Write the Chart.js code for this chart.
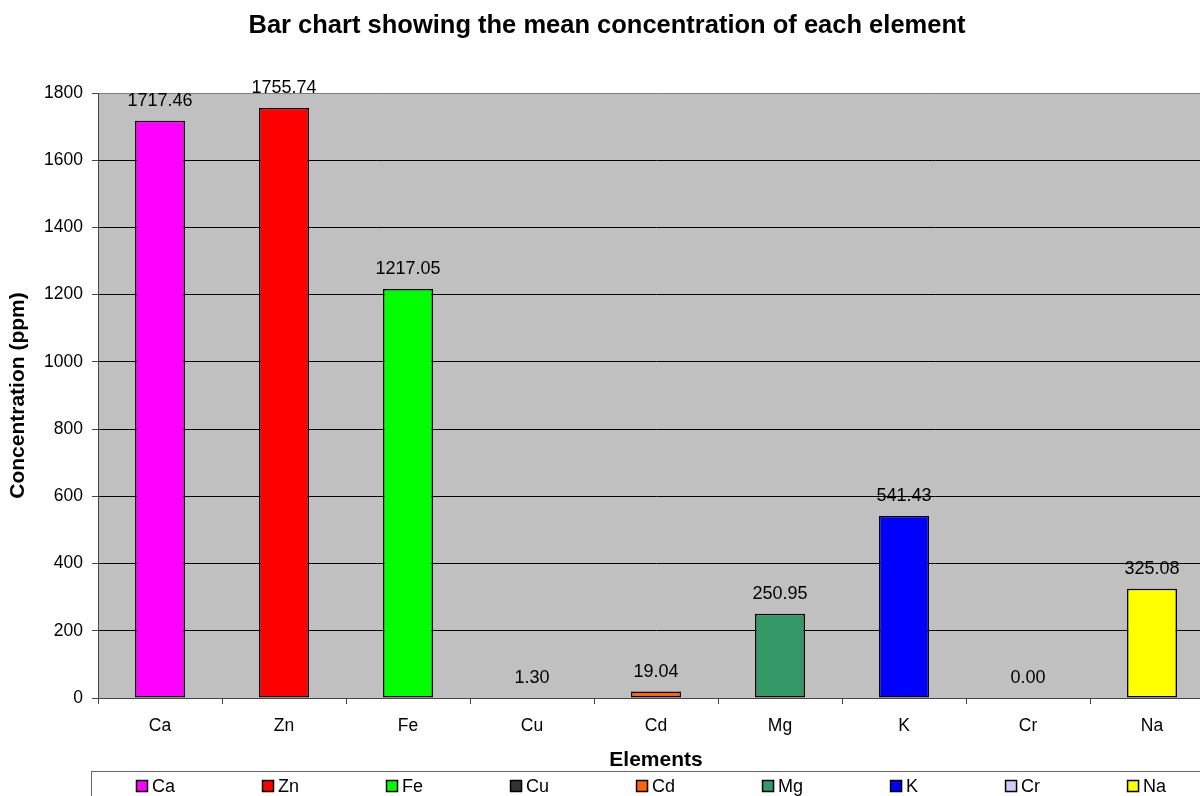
<!DOCTYPE html>
<html>
<head>
    <meta charset="UTF-8">
    <script src="https://cdn.jsdelivr.net/npm/chart.js"></script>
    <style>
        html, body { margin: 0; padding: 0; overflow: hidden; background: #fff; }
        .chart-container { width: 1220px; height: 796px; }
    </style>
</head>
<body>
    <div class="chart-container">
        <canvas id="elementChart"></canvas>
    </div>

    <script>
        // values
        const elements = ['Ca', 'Zn', 'Fe', 'Cu', 'Cd', 'Mg', 'K', 'Cr', 'Na'];
        const meanConcentration = [1717.46, 1755.74, 1217.05, 1.30, 19.04, 250.95, 541.43, 0.00, 325.08];
        const barColours = ['#FF00FF', '#FF0000', '#00FF00', '#333333', '#FF6600', '#339966', '#0000FF', '#CCCCFF', '#FFFF00'];

        const FONT = 'Arial, "Liberation Sans", sans-serif';

        // grey plot area behind the grid
        const plotBackground = {
            id: 'plotBackground',
            beforeDraw(chart) {
                const {ctx, chartArea: a} = chart;
                ctx.save();
                ctx.fillStyle = '#C0C0C0';
                ctx.fillRect(a.left, a.top, a.right - a.left, a.bottom - a.top);
                ctx.restore();
            }
        };

        // value labels above each bar
        const valueLabels = {
            id: 'valueLabels',
            afterDatasetsDraw(chart) {
                const ctx = chart.ctx;
                const meta = chart.getDatasetMeta(0);
                ctx.save();
                ctx.font = '18px ' + FONT;
                ctx.fillStyle = '#000';
                ctx.textAlign = 'center';
                ctx.textBaseline = 'middle';
                meta.data.forEach((bar, i) => {
                    ctx.fillText(meanConcentration[i].toFixed(2), bar.x, bar.y - 20);
                });
                ctx.restore();
            }
        };

        // boxed legend along the bottom, Excel style
        const boxLegend = {
            id: 'boxLegend',
            afterDraw(chart) {
                const ctx = chart.ctx;
                ctx.save();
                ctx.strokeStyle = '#666';
                ctx.lineWidth = 1;
                ctx.strokeRect(91.5, 771.5, chart.width, 60);
                ctx.font = '18px ' + FONT;
                ctx.textBaseline = 'middle';
                ctx.textAlign = 'left';
                let x = 136;
                elements.forEach((name, i) => {
                    ctx.fillStyle = barColours[i];
                    ctx.fillRect(x, 780, 12, 12);
                    ctx.strokeStyle = '#000';
                    ctx.lineWidth = 1.5;
                    ctx.strokeRect(x + 0.5, 780.5, 11, 11);
                    ctx.fillStyle = '#000';
                    ctx.fillText(name, x + 16, 787);
                    x += 16 + ctx.measureText(name).width + 87;
                });
                ctx.restore();
            }
        };

        document.addEventListener('DOMContentLoaded', function() {
            const ctx = document.getElementById('elementChart').getContext('2d');
            new Chart(ctx, {
                type: 'bar',
                data: {
                    labels: elements,
                    datasets: [{
                        label: 'Mean concentration',
                        data: meanConcentration,
                        backgroundColor: barColours,
                        borderColor: '#000',
                        borderWidth: 1.5,
                        borderSkipped: false,
                        barPercentage: 0.403,
                        categoryPercentage: 1
                    }]
                },
                options: {
                    responsive: true,
                    maintainAspectRatio: false,
                    animation: false,
                    layout: { padding: { top: 0, left: 0, bottom: 0, right: 6 } },
                    plugins: {
                        legend: { display: false },
                        tooltip: { enabled: false },
                        title: {
                            display: true,
                            text: 'Bar chart showing the mean concentration of each element',
                            color: '#000',
                            font: { family: FONT, size: 25.5, weight: 'bold' },
                            padding: { top: 10.7, bottom: 51.7 }
                        }
                    },
                    scales: {
                        x: {
                            afterFit(scale) { scale.height = 98; },
                            grid: {
                                drawOnChartArea: false,
                                tickLength: 6,
                                tickColor: '#444',
                                offset: true
                            },
                            border: { color: '#444', width: 1 },
                            ticks: {
                                color: '#000',
                                padding: 12,
                                font: { family: FONT, size: 17.5 }
                            },
                            title: {
                                display: true,
                                text: 'Elements',
                                color: '#000',
                                font: { family: FONT, size: 21, weight: 'bold' },
                                padding: { top: 0, bottom: 23.4 }
                            }
                        },
                        y: {
                            min: 0,
                            max: 1800,
                            afterFit(scale) { scale.width = 98; },
                            grid: {
                                color: c => c.tick.value === 1800 ? '#808080' : (c.tick.value === 0 ? '#444' : '#000'),
                                lineWidth: 1,
                                tickLength: 6,
                                tickColor: '#444'
                            },
                            border: { color: '#444', width: 1 },
                            ticks: {
                                stepSize: 200,
                                color: '#000',
                                padding: 9,
                                font: { family: FONT, size: 17.5 },
                                callback: v => String(v)
                            },
                            title: {
                                display: true,
                                text: 'Concentration (ppm)',
                                color: '#000',
                                font: { family: FONT, size: 21, weight: 'bold' },
                                padding: { top: 5.4, bottom: 0 }
                            }
                        }
                    }
                },
                plugins: [plotBackground, valueLabels, boxLegend]
            });
        });
    </script>
</body>
</html>
